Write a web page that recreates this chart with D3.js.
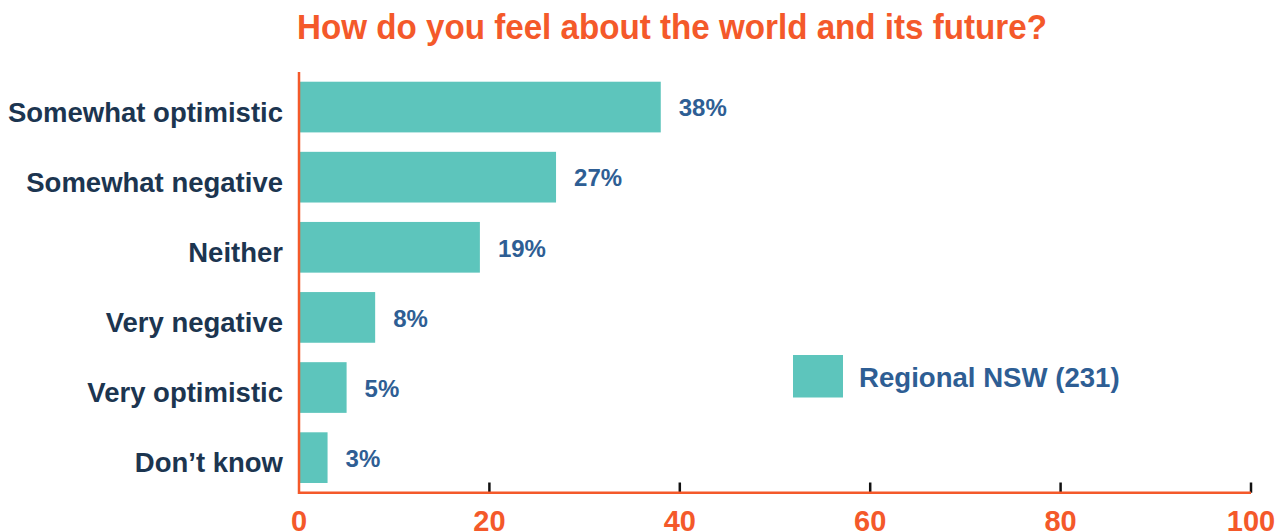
<!DOCTYPE html>
<html><head><meta charset="utf-8">
<script src="https://cdn.jsdelivr.net/npm/d3@7"></script>
<style>body{margin:0;background:#fff;}svg{display:block;font-family:"Liberation Sans",Arial,sans-serif;}</style>
</head><body>
<script>
const title = "How do you feel about the world and its future?";
const categories = ["Somewhat optimistic","Somewhat negative","Neither","Very negative","Very optimistic","Don\u2019t know"];
const values = [38, 27, 19, 8, 5, 3];
const valueLabels = ["38%","27%","19%","8%","5%","3%"];
const xTicks = [0, 20, 40, 60, 80, 100];
const seriesName = "Regional NSW (231)";

const W = 1286, H = 532;
const orange = "#F4592A", teal = "#5DC5BC", blue = "#2E5E94", navy = "#1C3550";
const svg = d3.select("body").append("svg").attr("width", W).attr("height", H);

const x = d3.scaleLinear().domain([0, 100]).range([299, 1251]);
const y = d3.scaleBand().domain(categories).range([72, 492.7]).paddingInner(0.277).paddingOuter(0.1385);

svg.append("text").attr("x", 297).attr("y", 39).attr("fill", orange)
  .attr("font-size", 35).attr("font-weight", "bold")
  .attr("textLength", 750).attr("lengthAdjust", "spacingAndGlyphs").text(title);

const data = categories.map((c, i) => ({c, v: values[i], l: valueLabels[i]}));

svg.selectAll("rect.bar").data(data).join("rect").attr("class", "bar")
  .attr("x", x(0)).attr("y", d => y(d.c))
  .attr("width", d => x(d.v) - x(0)).attr("height", y.bandwidth()).attr("fill", teal);

svg.selectAll("text.val").data(data).join("text").attr("class", "val")
  .attr("x", d => x(d.v) + 18).attr("y", d => y(d.c) + y.bandwidth() / 2 + 9.3)
  .attr("fill", blue).attr("font-size", 24).attr("font-weight", "bold").text(d => d.l);

// category labels
svg.selectAll("text.cat").data(categories).join("text").attr("class", "cat")
  .attr("x", 283).attr("y", d => y(d) + y.bandwidth() / 2 + 14.5)
  .attr("text-anchor", "end").attr("fill", navy).attr("font-size", 27.5).attr("font-weight", "bold").text(d => d);

// x axis ticks (black, upward)
svg.selectAll("line.tick").data(xTicks.filter(t => t > 0)).join("line").attr("class", "tick")
  .attr("x1", d => x(d)).attr("x2", d => x(d)).attr("y1", 482.5).attr("y2", 492.7)
  .attr("stroke", "#111").attr("stroke-width", 2.5);

// axis lines
svg.append("line").attr("x1", x(0)).attr("x2", x(100)).attr("y1", 492.7).attr("y2", 492.7)
  .attr("stroke", orange).attr("stroke-width", 2.5);
svg.append("line").attr("x1", x(0)).attr("x2", x(0)).attr("y1", 72).attr("y2", 494)
  .attr("stroke", orange).attr("stroke-width", 2.5);

svg.selectAll("text.xt").data(xTicks).join("text").attr("class", "xt")
  .attr("x", d => x(d)).attr("y", 531).attr("text-anchor", "middle")
  .attr("fill", orange).attr("font-size", 29).attr("font-weight", "bold").text(d => d);

// legend
svg.append("rect").attr("x", 793).attr("y", 355).attr("width", 50).attr("height", 42.5).attr("fill", teal);
svg.append("text").attr("x", 859).attr("y", 386.7).attr("fill", blue)
  .attr("font-size", 27.6).attr("font-weight", "bold").text(seriesName);
</script>
</body></html>
